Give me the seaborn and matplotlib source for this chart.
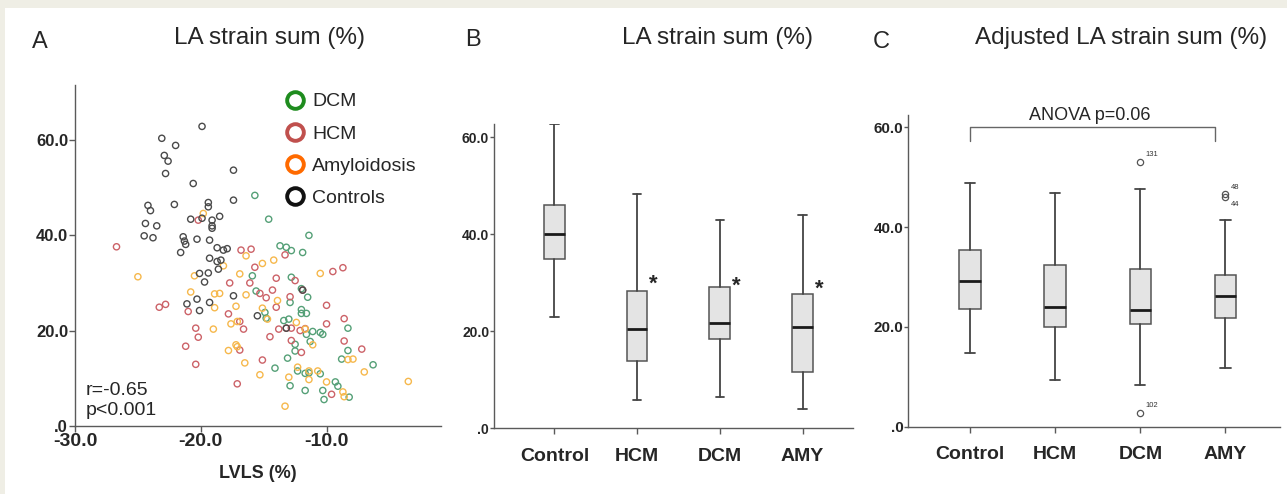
import matplotlib
matplotlib.use("Agg")
import matplotlib.pyplot as plt
from matplotlib.lines import Line2D
from matplotlib.patches import Rectangle
from matplotlib.ticker import FuncFormatter
import seaborn as sns
import pandas as pd

# ── Panel A: LVLS (%) vs LA strain sum (%) ─────────────────────────────────
ctl_lvls = [-19.9, -23.1, -22.0, -22.9, -22.6, -22.8, -17.4, -20.6, -22.1, -24.2,
            -24.0, -19.4, -19.4, -17.4, -24.4, -23.5, -24.5, -23.8, -20.8, -19.9,
            -19.1, -18.5, -19.1, -19.1, -21.4, -21.3, -21.2, -20.3, -19.3, -21.6,
            -18.7, -18.2, -17.9, -19.3, -18.7, -18.4, -18.6, -20.1, -19.4, -19.7,
            -17.4, -20.3, -21.1, -20.1, -19.3, -15.5, -13.2, -11.9]
ctl_la = [62.9, 60.4, 58.9, 56.8, 55.6, 53.0, 53.7, 50.9, 46.5, 46.3,
          45.2, 46.9, 46.0, 47.4, 42.5, 42.0, 39.9, 39.5, 43.4, 43.6,
          43.2, 44.0, 42.0, 41.5, 39.7, 38.8, 38.1, 39.2, 39.0, 36.4,
          37.4, 36.9, 37.2, 35.2, 34.5, 34.8, 32.9, 32.0, 32.1, 30.2,
          27.3, 26.6, 25.6, 24.2, 25.9, 23.1, 20.5, 28.5]

dcm_lvls = [-15.7, -14.6, -11.4, -13.7, -13.2, -12.8, -11.9, -15.9, -12.8, -15.6,
            -12.0, -11.5, -12.9, -12.0, -12.0, -11.6, -14.9, -14.8, -13.4, -13.0,
            -11.6, -11.1, -10.5, -10.3, -11.3, -12.5, -12.5, -8.3, -8.3, -8.8,
            -13.1, -6.3, -14.1, -12.3, -11.7, -11.4, -10.5, -9.3, -9.1, -12.9,
            -11.7, -10.3, -10.2, -8.2]
dcm_la = [48.4, 43.4, 40.0, 37.8, 37.5, 36.8, 36.4, 31.5, 31.2, 28.3,
          28.8, 27.0, 25.9, 24.4, 23.6, 23.6, 23.8, 22.6, 22.1, 22.4,
          19.2, 19.8, 19.6, 19.2, 17.7, 17.1, 15.7, 20.5, 15.8, 14.0,
          14.2, 12.8, 12.1, 11.5, 11.0, 11.1, 10.9, 9.2, 8.3, 8.4,
          7.4, 7.4, 5.5, 6.0]

hcm_lvls = [-26.7, -20.2, -16.8, -16.0, -15.7, -13.3, -9.5, -8.7, -14.0, -12.5,
            -17.7, -16.1, -15.3, -14.8, -14.3, -11.9, -12.9, -23.3, -22.8, -21.0,
            -17.8, -14.0, -10.0, -8.6, -10.0, -16.9, -16.6, -20.4, -20.2, -14.5,
            -13.8, -13.2, -12.8, -12.1, -11.7, -12.8, -12.0, -8.6, -7.2, -21.2,
            -16.9, -20.4, -15.1, -17.1, -9.6]
hcm_la = [37.6, 43.2, 36.9, 37.1, 33.3, 35.9, 32.4, 33.2, 31.0, 30.5,
          30.0, 30.0, 27.8, 26.9, 28.5, 28.5, 27.1, 24.9, 25.5, 24.0,
          23.5, 24.9, 25.3, 22.5, 21.4, 21.9, 20.3, 20.5, 18.6, 18.7,
          20.3, 20.5, 20.5, 20.0, 20.4, 17.9, 15.4, 17.8, 16.1, 16.7,
          15.9, 12.9, 13.8, 8.8, 6.6]

amy_lvls = [-25.0, -19.8, -20.5, -20.8, -18.9, -18.5, -18.2, -16.4, -16.9, -15.1,
            -14.2, -16.4, -17.2, -18.9, -15.1, -13.9, -10.5, -19.0, -17.6, -17.1,
            -14.7, -12.4, -11.7, -17.8, -17.2, -17.1, -16.5, -11.1, -15.3, -13.0,
            -12.3, -11.4, -11.4, -10.7, -10.0, -13.3, -8.7, -8.6, -8.3, -7.9,
            -7.0, -3.5]
amy_la = [31.3, 44.6, 31.5, 28.1, 27.7, 27.8, 33.6, 35.7, 31.9, 34.1,
          34.8, 27.5, 25.1, 24.8, 24.7, 26.3, 32.0, 20.3, 21.4, 21.9,
          22.4, 21.7, 20.3, 15.8, 17.0, 16.6, 13.2, 17.0, 10.7, 10.2,
          12.3, 9.7, 11.5, 11.5, 9.2, 4.1, 7.1, 6.1, 13.9, 14.0,
          11.3, 9.3]

legend_names = ["DCM", "HCM", "Amyloidosis", "Controls"]

# ── Panels B/C: box plot summaries (low whisker, Q1, median, Q3, high whisker)
groups = ["Control", "HCM", "DCM", "AMY"]
b_low = [22.9, 5.9, 6.5, 4.0]
b_q1 = [34.8, 13.9, 18.5, 11.5]
b_med = [40.0, 20.5, 21.6, 20.9]
b_q3 = [46.1, 28.2, 29.2, 27.7]
b_high = [62.6, 48.3, 43.0, 43.9]
b_star_y = [None, 29.6, 29.3, 28.7]

c_low = [14.8, 9.4, 8.4, 11.7]
c_q1 = [23.6, 20.0, 20.6, 21.7]
c_med = [29.3, 24.0, 23.5, 26.3]
c_q3 = [35.5, 32.4, 31.7, 30.4]
c_high = [48.9, 46.9, 47.6, 41.5]
c_fliers = [[], [], [53.1, 2.8], [46.6, 46.0]]
c_flier_ids = [[], [], ["131", "102"], ["48", "44"]]
anova_text = "ANOVA p=0.06"

# ── Style ──────────────────────────────────────────────────────────────────
sns.set_theme(style="ticks")
plt.rcParams["font.family"] = ["Liberation Sans", "DejaVu Sans"]

W, H = 1287, 494
fig = plt.figure(figsize=(W / 100, H / 100), dpi=100)
fig.patch.set_facecolor("#efeee5")
fig.add_artist(Rectangle((5 / W, 0), 1, 1 - 8 / H, transform=fig.transFigure,
                         facecolor="white", edgecolor="none", zorder=-10))

SPINE = "#5a5a5a"


def fmt(v, _):
    return ".0" if abs(v) < 1e-9 else f"{v:.1f}"


def axes_px(left, top, right, bottom):
    return fig.add_axes([left / W, 1 - bottom / H, (right - left) / W, (bottom - top) / H])


def clean(ax):
    sns.despine(ax=ax)
    for s in ("left", "bottom"):
        ax.spines[s].set_color(SPINE)
        ax.spines[s].set_linewidth(1.0)
    ax.set_facecolor("none")
    ax.yaxis.set_major_formatter(FuncFormatter(fmt))


# ── Panel A ────────────────────────────────────────────────────────────────
ax_a = axes_px(75, 85, 441, 425.7)
scatter_groups = [
    (dcm_lvls, dcm_la, "#55a077"),
    (hcm_lvls, hcm_la, "#cc6268"),
    (amy_lvls, amy_la, "#f6b84c"),
    (ctl_lvls, ctl_la, "#4a4a4a"),
]
for xs, ys, col in scatter_groups:
    df = pd.DataFrame({"LVLS": xs, "LA": ys})
    sns.scatterplot(data=df, x="LVLS", y="LA", ax=ax_a, color=col, facecolor="none",
                    edgecolor=col, linewidth=1.0, s=20, marker="o", legend=False)
ax_a.set_xlim(-30, -0.9)
ax_a.set_ylim(0, 71.6)
ax_a.set_xticks([-30, -20, -10])
ax_a.set_yticks([0, 20, 40, 60])
ax_a.xaxis.set_major_formatter(FuncFormatter(fmt))
clean(ax_a)
ax_a.tick_params(axis="x", length=4, width=1, color=SPINE, pad=1, labelsize=14)
ax_a.tick_params(axis="y", length=4, width=1, color=SPINE, pad=1, labelsize=12)
for lab in ax_a.get_xticklabels() + ax_a.get_yticklabels():
    lab.set_fontweight("bold")
ax_a.set_xlabel("LVLS (%)", fontsize=13, fontweight="bold", labelpad=11)
ax_a.set_ylabel("")
ax_a.text(0.03, 0.02, "r=-0.65\np<0.001", transform=ax_a.transAxes, fontsize=14,
          ha="left", va="bottom", linespacing=1.25)

legend_cols = ["#1e8c1e", "#c0504d", "#ff6a00", "#111111"]
handles = [Line2D([], [], ls="none", marker="o", ms=12, mfc="none", mec=c, mew=2.8)
           for c in legend_cols]
ax_a.legend(handles, legend_names, loc="upper left", bbox_to_anchor=(0.553, 1.0),
            frameon=False, fontsize=14, handlelength=1.0, handletextpad=0.4,
            labelspacing=0.75, borderaxespad=0)

fig.text(40 / W, 1 - 42 / H, "A", fontsize=17, ha="center", va="center")
fig.text(269 / W, 1 - 38 / H, "LA strain sum (%)", fontsize=17.5, ha="center", va="center")


# ── Box panels ─────────────────────────────────────────────────────────────
def box_panel(ax, low, q1, med, q3, high, fliers, capw):
    stats = []
    for i in range(len(groups)):
        stats.append(dict(whislo=low[i], q1=q1[i], med=med[i], q3=q3[i],
                          whishi=high[i], fliers=fliers[i]))
    ax.bxp(stats, positions=list(range(len(groups))), widths=0.25, capwidths=capw,
           patch_artist=True, manage_ticks=False,
           boxprops=dict(facecolor="#e4e4e4", edgecolor="#555555", linewidth=1.1),
           whiskerprops=dict(color="#444444", linewidth=1.3),
           capprops=dict(color="#444444", linewidth=1.3),
           medianprops=dict(color="#1a1a1a", linewidth=2.0),
           flierprops=dict(marker="o", mfc="none", mec="#555555", ms=4.5, mew=0.9))
    ax.set_xticks(list(range(len(groups))))
    ax.set_xticklabels(groups)
    ax.set_yticks([0, 20, 40, 60])
    clean(ax)
    ax.tick_params(axis="x", length=4, width=1, color=SPINE, pad=10, labelsize=14)
    for lab in ax.get_xticklabels() + ax.get_yticklabels():
        lab.set_fontweight("bold")


ax_b = axes_px(494, 124, 853, 428.3)
box_panel(ax_b, b_low, b_q1, b_med, b_q3, b_high, [[], [], [], []], 0.1)
ax_b.set_xlim(-0.73, 3.61)
ax_b.set_ylim(0, 62.7)
ax_b.tick_params(axis="y", length=3, width=1, color=SPINE, pad=0.5, labelsize=10)
for i, sy in enumerate(b_star_y):
    if sy is not None:
        ax_b.text(i + 0.2, sy, "*", fontsize=16, fontweight="bold", ha="center",
                  va="center")
fig.text(472.7 / W, 1 - 40 / H, "B", fontsize=17, ha="center", va="center")
fig.text(717.5 / W, 1 - 38 / H, "LA strain sum (%)", fontsize=17.5, ha="center", va="center")

ax_c = axes_px(908.3, 115, 1280, 426.7)
box_panel(ax_c, c_low, c_q1, c_med, c_q3, c_high, c_fliers, 0.12)
ax_c.set_xlim(-0.724, 3.64)
ax_c.set_ylim(0, 62.5)
ax_c.tick_params(axis="y", length=3, width=1, color=SPINE, pad=0.5, labelsize=11)
for i, (vals, ids) in enumerate(zip(c_fliers, c_flier_ids)):
    for j, (v, t) in enumerate(zip(vals, ids)):
        if i == 3:
            off = (4, 5) if j == 0 else (4, -5)
        else:
            off = (4, 5)
        ax_c.annotate(t, (i, v), xytext=off, textcoords="offset points",
                      fontsize=5.5, ha="left", va="center", color="#333333")
# bracket for the ANOVA comparison
ax_c.plot([0, 0, 2.88, 2.88], [57.2, 60, 60, 57.2], color="#666666", linewidth=1.0,
          clip_on=False)
ax_c.text(1.41, 62.4, anova_text, fontsize=13, ha="center", va="center")
fig.text(881.7 / W, 1 - 42 / H, "C", fontsize=17, ha="center", va="center")
fig.text(1121 / W, 1 - 38 / H, "Adjusted LA strain sum (%)", fontsize=17.5,
         ha="center", va="center")

fig.savefig("out.png", dpi=100, facecolor=fig.get_facecolor())
plt.close(fig)
